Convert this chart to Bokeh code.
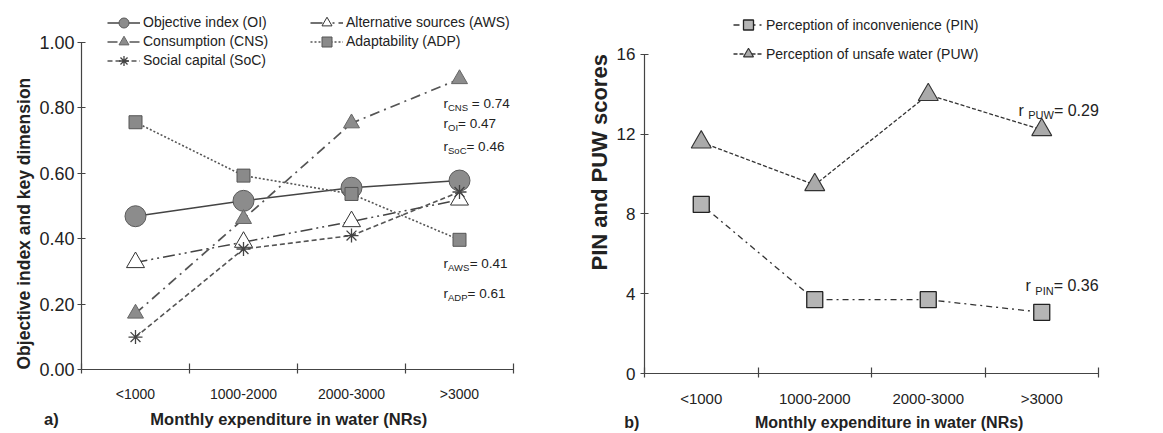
from bokeh.plotting import figure
from bokeh.models import (Range1d, FixedTicker, Legend, LegendItem, Label, Title,
                          NumeralTickFormatter)
from bokeh.layouts import row
from bokeh.embed import file_html
from bokeh.resources import INLINE

# ---------------- data ----------------
categories = ["<1000", "1000-2000", "2000-3000", ">3000"]
oi = [0.468, 0.515, 0.555, 0.577]
aws = [0.327, 0.389, 0.452, 0.518]
cns = [0.171, 0.46, 0.752, 0.887]
adp = [0.755, 0.592, 0.536, 0.396]
soc = [0.099, 0.368, 0.409, 0.542]
pin = [8.48, 3.70, 3.70, 3.07]
puw = [11.6, 9.46, 13.98, 12.22]
left_ticks = [0.0, 0.2, 0.4, 0.6, 0.8, 1.0]
right_ticks = [0, 4, 8, 12, 16]
r_left_names = ["CNS", "OI", "SoC", "AWS", "ADP"]
r_left_vals = [0.74, 0.47, 0.46, 0.41, 0.61]
r_right_names = ["PUW", "PIN"]
r_right_vals = [0.29, 0.36]
x_title = "Monthly expenditure in water (NRs)"

FONT = "Liberation Sans"
TXT = "#222222"
AX = "#444444"
NB = "\u00a0"

ARIAL = {' ': 0.278, NB: 0.278, '=': 0.584, '.': 0.278, 'r': 0.333, 'o': 0.556,
         'C': 0.722, 'N': 0.722, 'S': 0.667, 'O': 0.778, 'I': 0.278,
         'A': 0.667, 'W': 0.944, 'D': 0.722, 'P': 0.667, 'U': 0.722}


def text_w(s, size):
    return sum(ARIAL.get(ch, 0.556) for ch in s) * size


x = [i + 0.5 for i in range(len(categories))]
n = len(categories)


def style_common(p):
    p.grid.visible = False
    p.outline_line_color = None
    p.background_fill_color = "white"
    p.border_fill_color = "white"


def style_xaxis(p, tick_size, title, title_size, standoff, title_standoff):
    xa = p.xaxis[0]
    xa.ticker = FixedTicker(ticks=x, minor_ticks=list(range(n + 1)))
    xa.major_label_overrides = {xi: c for xi, c in zip(x, categories)}
    xa.bounds = (0, n)
    xa.axis_line_color = AX
    xa.axis_line_width = 1.2
    xa.major_tick_line_color = None
    xa.major_tick_in = 0
    xa.major_tick_out = 0
    xa.minor_tick_line_color = AX
    xa.minor_tick_line_width = 1.2
    xa.minor_tick_in = 6
    xa.minor_tick_out = 4
    xa.major_label_standoff = standoff
    xa.major_label_text_font = FONT
    xa.major_label_text_font_size = tick_size
    xa.major_label_text_color = TXT
    xa.axis_label = title
    xa.axis_label_text_font = FONT
    xa.axis_label_text_font_style = "bold"
    xa.axis_label_text_font_size = title_size
    xa.axis_label_text_color = TXT
    xa.axis_label_standoff = title_standoff


def style_yaxis(p, ticks, bounds, tick_size, standoff):
    ya = p.yaxis[0]
    ya.ticker = FixedTicker(ticks=ticks, minor_ticks=[])
    ya.bounds = bounds
    ya.axis_line_color = AX
    ya.axis_line_width = 1.2
    ya.major_tick_line_color = AX
    ya.major_tick_line_width = 1.2
    ya.major_tick_in = 4
    ya.major_tick_out = 4
    ya.minor_tick_line_color = None
    ya.major_label_standoff = standoff
    ya.major_label_text_font = FONT
    ya.major_label_text_font_size = tick_size
    ya.major_label_text_color = TXT


def y_title(p, text, size, offset, standoff):
    p.add_layout(Title(text=text, align="left", offset=offset, standoff=standoff,
                       text_font=FONT, text_font_size=size, text_font_style="bold",
                       text_color=TXT), "left")


def make_legend(items, loc, gw, spacing):
    return Legend(items=items, location=loc, glyph_width=gw, glyph_height=25,
                  label_standoff=3, spacing=spacing, padding=0, margin=0,
                  border_line_color=None, background_fill_alpha=0,
                  label_text_font=FONT, label_text_font_size="14px",
                  label_text_color=TXT, label_height=16)


def add_r(p, xx, yy, pre, name, sep, val, main, sub, dy):
    first = "r" + pre
    p.add_layout(Label(x=xx, y=yy, text=first, text_font=FONT, text_font_size=f"{main}px",
                       text_color=TXT, text_baseline="middle"))
    w = text_w(first, main)
    p.add_layout(Label(x=xx, y=yy, text=name, text_font=FONT, text_font_size=f"{sub}px",
                       text_color=TXT, text_baseline="middle", x_offset=w, y_offset=-dy))
    w += text_w(name, sub)
    p.add_layout(Label(x=xx, y=yy, text=f"{sep}{val:.2f}", text_font=FONT,
                       text_font_size=f"{main}px", text_color=TXT,
                       text_baseline="middle", x_offset=w))


# ---------------- left panel ----------------
FH1 = 359
p1 = figure(frame_width=432, frame_height=FH1, min_border_left=81, min_border_right=70,
            min_border_top=10, min_border_bottom=56,
            x_range=Range1d(0, n), y_range=Range1d(0, FH1 / 327.5),
            output_backend="svg", toolbar_location=None, tools="")
style_common(p1)
# panel letter shares the line of the axis title; non-breaking spaces keep it at the left
style_xaxis(p1, "14px", "a)" + NB * 20 + x_title + NB * 27, "16.5px", 12, 5)
style_yaxis(p1, left_ticks, (0, 1), "18px", 3)
p1.yaxis[0].formatter = NumeralTickFormatter(format="0.00")
y_title(p1, "Objective index and key dimension", "17.5px", 0, 5)

l_oi = p1.line(x, oi, line_color="#444444", line_width=1.5)
m_oi = p1.scatter(x, oi, marker="circle", size=21, fill_color="#8c8c8c",
                  line_color="#5a5a5a", line_width=1)
l_aws = p1.line(x, aws, line_color="#444444", line_width=1.5, line_dash="12 4 2 4 2 4")
m_aws = p1.scatter(x, aws, marker="triangle", size=18, fill_color="white",
                   line_color="#333333", line_width=1)
l_cns = p1.line(x, cns, line_color="#555555", line_width=1.7, line_dash="10 5 2 5")
m_cns = p1.scatter(x, cns, marker="triangle", size=16, fill_color="#8c8c8c",
                   line_color="#666666", line_width=1)
l_adp = p1.line(x, adp, line_color="#555555", line_width=1.6, line_dash="2 2")
m_adp = p1.scatter(x, adp, marker="square", size=13, fill_color="#8a8a8a",
                   line_color="#555555", line_width=1)
l_soc = p1.line(x, soc, line_color="#555555", line_width=1.6, line_dash="5 3")
m_soc = p1.scatter(x, soc, marker="asterisk", size=14, line_color="#444444", line_width=1.3)

# one legend per entry: (label, renderers, x offset, row centre from frame top)
left_entries = [
    ("Objective index (OI)", [l_oi, m_oi], 26, 12),
    ("Consumption (CNS)", [l_cns, m_cns], 26, 31),
    ("Social capital (SoC)", [l_soc, m_soc], 26, 50),
    ("Alternative sources (AWS)", [l_aws, m_aws], 229, 12),
    ("Adaptability (ADP)", [l_adp, m_adp], 229, 31),
]
for lab, rends, ox, cy in left_entries:
    p1.add_layout(make_legend([LegendItem(label=lab, renderers=rends)],
                              (ox, FH1 - cy - 12.5), 33, 0))

left_r_pos = [(3.352, 0.812), (3.352, 0.751), (3.352, 0.681), (3.352, 0.324), (3.352, 0.232)]
for (xx, yy), nm, v in zip(left_r_pos, r_left_names, r_left_vals):
    add_r(p1, xx, yy, "", nm, NB + "= " if nm == "CNS" else "= ", v, 13.5, 9.5, 4)

# ---------------- right panel ----------------
FH2 = 363
p2 = figure(frame_width=461, frame_height=FH2, min_border_left=61, min_border_right=50,
            min_border_top=10, min_border_bottom=52,
            x_range=Range1d(0, n * 461 / 454), y_range=Range1d(0, FH2 / 19.94),
            output_backend="svg", toolbar_location=None, tools="")
style_common(p2)
style_xaxis(p2, "15px", "b)" + NB * 26 + x_title + NB * 23, "16px", 12, 4)
style_yaxis(p2, right_ticks, (0, 16), "17px", 5)
y_title(p2, "PIN and PUW scores", "22px", 103, 3)

l_pin = p2.line(x, pin, line_color="#333333", line_width=1.3, line_dash="6 4 2 4")
m_pin = p2.scatter(x, pin, marker="square", size=16, fill_color="#b5b5b5",
                   line_color="#222222", line_width=1.3)
l_puw = p2.line(x, puw, line_color="#333333", line_width=1.3, line_dash="4 2")
m_puw = p2.scatter(x, puw, marker="triangle", size=20, fill_color="#aaaaaa",
                   line_color="#333333", line_width=1.1)

leg_c = make_legend([
    LegendItem(label="Perception of inconvenience (PIN)", renderers=[l_pin, m_pin]),
    LegendItem(label="Perception of unsafe water (PUW)", renderers=[l_puw, m_puw]),
], (89, FH2 - 56), 30, 4)
p2.add_layout(leg_c)

right_r_pos = [(3.295, 13.19), (3.357, 4.41)]
for (xx, yy), nm, v in zip(right_r_pos, r_right_names, r_right_vals):
    add_r(p2, xx, yy, " ", nm, "= ", v, 16, 11, 5)

layout = row(p1, p2)
open("out.html", "w").write(file_html(layout, INLINE))
